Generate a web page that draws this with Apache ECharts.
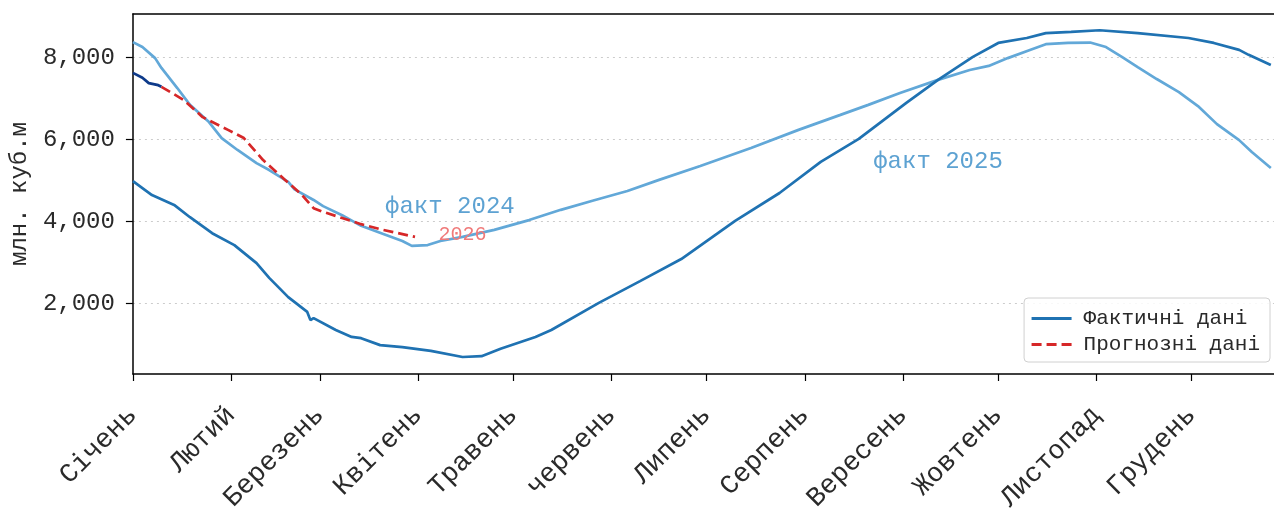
<!DOCTYPE html>
<html>
<head>
<meta charset="utf-8">
<script src="https://cdn.jsdelivr.net/npm/echarts@6/dist/echarts.min.js"></script>
<style>
html,body{margin:0;padding:0;background:#fff;}
#chart{width:1274px;height:519px;}
</style>
</head>
<body>
<div id="chart"></div>
<script>
const monthNames = ['Січень','Лютий','Березень','Квітень','Травень','червень','Липень','Серпень','Вересень','Жовтень','Листопад','Грудень'];
const monthStartDays = [0,31,59,90,120,151,181,212,243,273,304,334];
const yTicks = [2000,4000,6000,8000];

const days2024 = [0,3,7,9,14,18,24,28,33,39,43,49,51,57,60,66,72,79,85,88,93,97,104,114,125,135,145,156,166,179,195,210,223,232,242,254,264,270,276,283,288,295,302,307,312,317,323,330,336,342,349,353,359];
const vals2024 = [8370,8250,7980,7740,7250,6840,6420,6030,5740,5420,5250,4960,4780,4520,4370,4150,3890,3690,3520,3400,3420,3520,3620,3790,4030,4280,4500,4740,5010,5350,5790,6230,6590,6840,7130,7450,7690,7790,7980,8180,8320,8350,8360,8250,8010,7760,7470,7150,6810,6370,5980,5690,5300];

const days2025 = [0,6,13,18,25,32,39,43,49,55,56,57,64,69,72,78,85,94,104,110,116,127,132,147,160,173,190,204,217,229,244,254,265,273,282,288,296,305,317,333,341,349,352,359];
const vals2025 = [4980,4640,4400,4100,3710,3420,2980,2620,2150,1790,1590,1640,1350,1180,1150,980,930,840,690,710,890,1180,1350,2010,2540,3080,4010,4690,5450,6010,6890,7450,8010,8350,8470,8590,8620,8660,8590,8470,8350,8180,8060,7810];

const days2026 = [0,3,5,8,9];
const vals2026 = [7620,7500,7370,7320,7280];

const daysForecast = [9,16,22,30,35,41,48,53,57,60,66,72,79,89];
const valsForecast = [7280,6960,6540,6230,6030,5500,5010,4670,4320,4230,4080,3930,3790,3620];

const annotations = [
  {text:'факт 2024', day:100, value:4350},
  {text:'факт 2025', day:254, value:5450},
  {text:'2026', day:104, value:3670}
];

const FONT = "'Liberation Mono','DejaVu Sans Mono',monospace";
const C2024 = '#62a8d8';
const C2025 = '#1f72b2';
const C2026 = '#0e3a8a';
const CRED = '#d62728';

const zip = (d, v) => d.map((x, i) => [x, v[i]]);

function ann(a, color, size) {
  return {
    symbol: 'circle', symbolSize: 0,
    data: [{name: a.text, coord: [a.day, a.value]}],
    label: {show: true, position: 'inside', formatter: p => p.name, color: color, fontSize: size, fontFamily: FONT},
    itemStyle: {color: 'rgba(0,0,0,0)'}
  };
}

const chart = echarts.init(document.getElementById('chart'), null, {renderer: 'canvas'});
chart.setOption({
  animation: false,
  backgroundColor: '#fff',
  grid: {left: 127, right: 0, top: 14, bottom: 145, containLabel: false},
  xAxis: [{
    type: 'value', min: 0, max: 360,
    axisLine: {show: true, lineStyle: {color: '#000', width: 1.5}},
    axisTick: {show: true, length: 7, lineStyle: {color: '#000', width: 1.2}, customValues: monthStartDays},
    axisLabel: {
      show: true, rotate: 45, margin: 37, fontSize: 27, fontFamily: FONT, color: '#2a2a2a',
      customValues: monthStartDays,
      formatter: v => monthNames[monthStartDays.indexOf(Math.round(v))] || ''
    },
    splitLine: {show: false}
  }, {
    type: 'value', min: 0, max: 360, position: 'top',
    axisLine: {show: true, onZero: false, lineStyle: {color: '#000', width: 1.5}},
    axisTick: {show: false}, axisLabel: {show: false}, splitLine: {show: false}
  }],
  yAxis: {
    type: 'value', min: 276, max: 9056,
    name: 'млн. куб.м', nameLocation: 'middle', nameGap: 97, nameRotate: 90,
    nameTextStyle: {fontSize: 24, fontFamily: FONT, color: '#2a2a2a'},
    axisLine: {show: true, lineStyle: {color: '#000', width: 1.5}},
    axisTick: {show: true, length: 7, lineStyle: {color: '#000', width: 1.2}, customValues: yTicks},
    axisLabel: {show: true, fontSize: 24, fontFamily: FONT, color: '#2a2a2a', margin: 18,
      customValues: yTicks, formatter: v => Math.round(v).toLocaleString('en-US')},
    splitLine: {show: true, lineStyle: {color: '#cccccc', type: [2, 4], width: 1.2}}
  },
  legend: {
    data: ['Фактичні дані', 'Прогнозні дані'],
    orient: 'vertical', right: 4, top: 298,
    itemWidth: 40, itemHeight: 14, itemGap: 5,
    padding: [10, 10, 7, 6],
    itemStyle: {opacity: 0},
    lineStyle: {width: 3},
    backgroundColor: 'rgba(255,255,255,0.85)', borderColor: '#d0d0d0', borderWidth: 1, borderRadius: 4,
    textStyle: {fontSize: 21, fontFamily: FONT, color: '#2a2a2a', padding: [0, 0, 0, 7]}
  },
  series: [
    {name: 'факт 2024', type: 'line', data: zip(days2024, vals2024), showSymbol: false, symbol: 'none',
     lineStyle: {color: C2024, width: 2.7}, itemStyle: {color: C2024}, z: 2,
     markPoint: ann(annotations[0], '#5da2d2', 24)},
    {name: 'Фактичні дані', type: 'line', data: zip(days2025, vals2025), showSymbol: false, symbol: 'none',
     lineStyle: {color: C2025, width: 2.7}, itemStyle: {color: C2025}, z: 3,
     markPoint: ann(annotations[1], '#5da2d2', 24)},
    {name: 'факт 2026', type: 'line', data: zip(days2026, vals2026), showSymbol: false, symbol: 'none',
     lineStyle: {color: C2026, width: 2.7}, itemStyle: {color: C2026}, z: 4},
    {name: 'Прогнозні дані', type: 'line', data: zip(daysForecast, valsForecast), showSymbol: false, symbol: 'none',
     lineStyle: {color: CRED, width: 2.7, type: [10, 5]}, itemStyle: {color: CRED}, z: 5,
     markPoint: ann(annotations[2], '#f07a7a', 20)}
  ]
});
</script>
</body>
</html>
